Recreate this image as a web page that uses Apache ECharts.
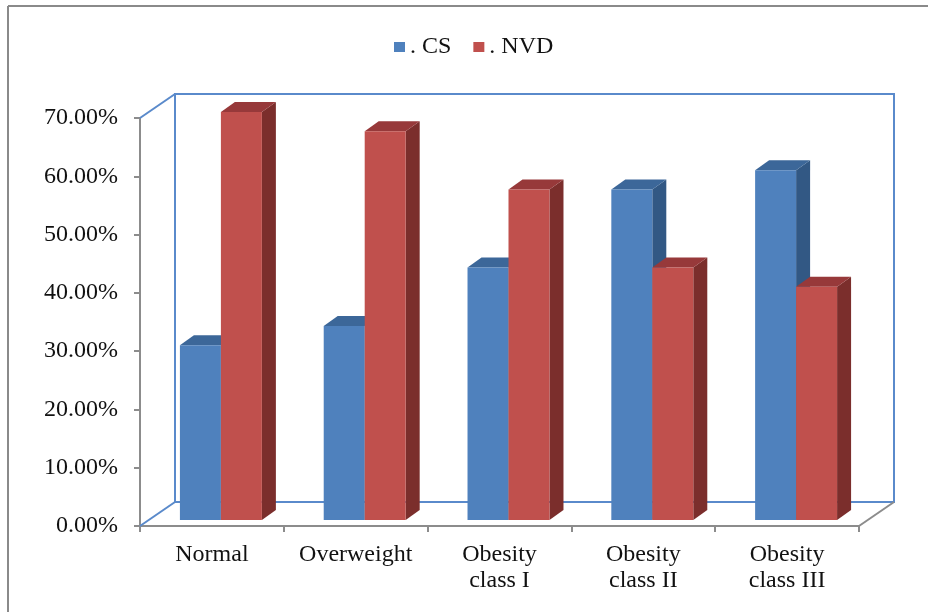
<!DOCTYPE html>
<html>
<head>
<meta charset="utf-8">
<style>
  html, body { margin: 0; padding: 0; background: #ffffff; }
  #chart { width: 928px; height: 612px; }
</style>
<script src="https://cdn.jsdelivr.net/npm/echarts@6/dist/echarts.min.js"></script>
</head>
<body>
<div id="chart"></div>
<script>
// Delivery mode share by BMI category
const categories = ['Normal', 'Overweight', 'Obesity\nclass I', 'Obesity\nclass II', 'Obesity\nclass III'];
const csValues = [30.0, 33.3, 43.3, 56.7, 60.0];
const nvdValues = [70.0, 66.7, 56.7, 43.3, 40.0];
const seriesNames = ['CS', 'NVD'];
const yTicks = { min: 0, max: 70, interval: 10 };

// 3D look: walls recede up-right, bars sit a little inside the floor
const WALL_DX = 35, WALL_DY = -24;
const BAR_SHIFT_X = 9, BAR_SHIFT_Y = -6;
const BAR_DEPTH_X = 14, BAR_DEPTH_Y = -10;
const BAR_RATIO = 0.285;

const palette = [
  { front: '#4F81BD', top: '#3C6799', side: '#325884' },
  { front: '#C0504D', top: '#97393A', side: '#7B2E2C' }
];
const wallColor = '#5A8ACB';
const axisGray = '#8C8C8C';
const FONT = '"Liberation Serif", "Times New Roman", serif';
const FONT_SIZE = 24;

function barRenderer(seriesIndex) {
  const c = palette[seriesIndex];
  return function (params, api) {
    const cat = api.value(0);
    const val = api.value(1);
    const base = api.coord([cat, 0]);
    const top = api.coord([cat, val]);
    const bw = api.size([1, 0])[0] * BAR_RATIO;
    const cx = base[0] + BAR_SHIFT_X;
    const x0 = cx - bw + seriesIndex * bw;
    const x1 = x0 + bw;
    const yt = top[1] + BAR_SHIFT_Y;
    const yb = base[1] + BAR_SHIFT_Y;
    return {
      type: 'group',
      children: [
        { type: 'polygon', shape: { points: [[x1, yt], [x1 + BAR_DEPTH_X, yt + BAR_DEPTH_Y], [x1 + BAR_DEPTH_X, yb + BAR_DEPTH_Y], [x1, yb]] }, style: { fill: c.side } },
        { type: 'polygon', shape: { points: [[x0, yt], [x1, yt], [x1 + BAR_DEPTH_X, yt + BAR_DEPTH_Y], [x0 + BAR_DEPTH_X, yt + BAR_DEPTH_Y]] }, style: { fill: c.top } },
        { type: 'rect', shape: { x: x0, y: yt, width: bw, height: yb - yt }, style: { fill: c.front } }
      ]
    };
  };
}

function frameRenderer(params) {
  const g = params.coordSys;
  const l = g.x, t = g.y, r = g.x + g.width, b = g.y + g.height;
  const blue = { stroke: wallColor, lineWidth: 2, fill: null };
  return {
    type: 'group',
    silent: true,
    children: [
      { type: 'rect', shape: { x: l + WALL_DX, y: t + WALL_DY, width: g.width, height: g.height }, style: blue },
      { type: 'line', shape: { x1: l, y1: t, x2: l + WALL_DX, y2: t + WALL_DY }, style: blue },
      { type: 'line', shape: { x1: l, y1: b, x2: l + WALL_DX, y2: b + WALL_DY }, style: blue },
      { type: 'line', shape: { x1: r, y1: b, x2: r + WALL_DX, y2: b + WALL_DY }, style: { stroke: axisGray, lineWidth: 2 } }
    ]
  };
}

const chart = echarts.init(document.getElementById('chart'), null, { renderer: 'canvas' });

chart.setOption({
  animation: false,
  backgroundColor: '#ffffff',
  graphic: [
    { type: 'line', shape: { x1: 8, y1: 6, x2: 8, y2: 612 }, style: { stroke: '#8A8A8A', lineWidth: 2 }, silent: true },
    { type: 'line', shape: { x1: 8, y1: 6, x2: 928, y2: 6 }, style: { stroke: '#8A8A8A', lineWidth: 2 }, silent: true }
  ],
  legend: {
    data: seriesNames,
    left: 389,
    top: 30,
    itemWidth: 11,
    itemHeight: 10,
    itemGap: 22,
    icon: 'rect',
    formatter: function (name) { return '. ' + name; },
    textStyle: { fontFamily: FONT, fontSize: FONT_SIZE, color: '#111' }
  },
  grid: { left: 140, right: 69, top: 118, bottom: 86, containLabel: false },
  xAxis: {
    type: 'category',
    data: categories,
    boundaryGap: true,
    axisLine: { show: true, lineStyle: { color: axisGray, width: 2 } },
    axisTick: { show: true, length: 6, lineStyle: { color: axisGray, width: 2 } },
    axisLabel: { fontFamily: FONT, fontSize: FONT_SIZE, color: '#111', margin: 16, lineHeight: 26, interval: 0 },
    splitLine: { show: false }
  },
  yAxis: {
    type: 'value',
    min: yTicks.min,
    max: yTicks.max,
    interval: yTicks.interval,
    axisLine: { show: true, lineStyle: { color: axisGray, width: 2 } },
    axisTick: { show: true, length: 6, lineStyle: { color: axisGray, width: 2 } },
    axisLabel: { fontFamily: FONT, fontSize: FONT_SIZE, color: '#111', margin: 22, formatter: function (v) { return v.toFixed(2) + '%'; } },
    splitLine: { show: false }
  },
  series: [
    { type: 'custom', name: 'frame', silent: true, clip: false, z: 1, renderItem: frameRenderer, data: [[0, 0]] },
    { type: 'custom', name: seriesNames[0], clip: false, z: 2, color: palette[0].front, itemStyle: { color: palette[0].front },
      renderItem: barRenderer(0), encode: { x: 0, y: 1 }, data: csValues.map(function (v, i) { return [i, v]; }) },
    { type: 'custom', name: seriesNames[1], clip: false, z: 3, color: palette[1].front, itemStyle: { color: palette[1].front },
      renderItem: barRenderer(1), encode: { x: 0, y: 1 }, data: nvdValues.map(function (v, i) { return [i, v]; }) }
  ]
});
</script>
</body>
</html>
